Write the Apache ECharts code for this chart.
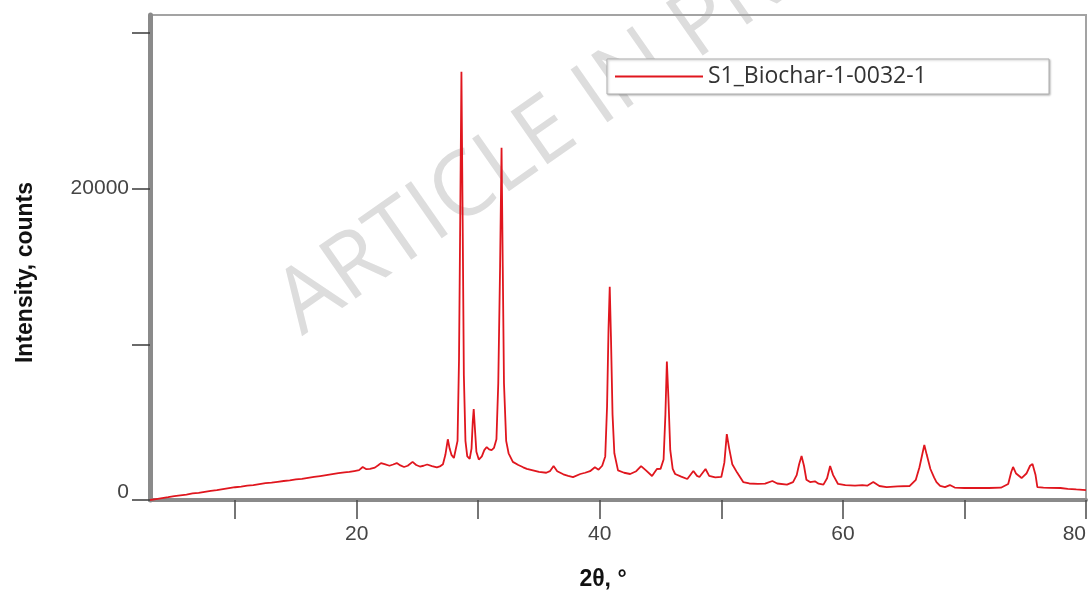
<!DOCTYPE html>
<html>
<head>
<meta charset="utf-8">
<script src="https://cdn.jsdelivr.net/npm/echarts@6/dist/echarts.min.js"></script>
<style>
  html, body { margin: 0; padding: 0; background: #ffffff; }
  #chart { width: 1092px; height: 596px; }
</style>
</head>
<body>
<div id="chart"></div>
<script>
// ---- data ----
const seriesName = 'S1_Biochar-1-0032-1';
const twoTheta = [
  3.0, 3.5, 4.0, 4.5, 5.0, 5.5, 6.0, 6.5, 7.0, 7.5, 8.0, 8.5, 9.0, 9.5, 10.0, 10.5,
  11.0, 11.5, 12.0, 12.5, 13.0, 13.5, 14.0, 14.5, 15.0, 15.5, 16.0, 16.5, 17.0, 17.5,
  18.0, 18.5, 19.0, 19.4, 19.8, 20.2, 20.5, 20.8, 21.1, 21.5, 21.8, 22.0, 22.3, 22.7,
  23.0, 23.3, 23.6, 23.9, 24.2, 24.6, 24.9, 25.2, 25.5, 25.8, 26.2, 26.6, 26.9, 27.1,
  27.3, 27.5, 27.65, 27.8, 28.0, 28.15, 28.3, 28.42, 28.52, 28.62, 28.72, 28.82, 28.95,
  29.1, 29.3, 29.45, 29.55, 29.63, 29.72, 29.85, 30.05, 30.3, 30.5, 30.7, 30.9, 31.1,
  31.3, 31.5, 31.65, 31.8, 31.92, 32.02, 32.12, 32.3, 32.5, 32.85, 33.3, 33.7, 34.0,
  34.5, 35.0, 35.6, 35.9, 36.2, 36.5, 37.0, 37.4, 37.8, 38.4, 38.8, 39.2, 39.6, 39.9,
  40.2, 40.45, 40.6, 40.72, 40.82, 40.92, 41.05, 41.2, 41.5, 42.0, 42.5, 43.0, 43.4,
  43.8, 44.3, 44.7, 45.0, 45.25, 45.4, 45.52, 45.65, 45.8, 46.0, 46.2, 46.7, 47.2,
  47.7, 48.0, 48.2, 48.7, 49.0, 49.5, 50.0, 50.25, 50.45, 50.65, 50.9, 51.3, 51.8,
  52.3, 53.0, 53.6, 54.2, 54.6, 55.4, 55.9, 56.2, 56.4, 56.6, 56.8, 57.0, 57.3, 57.7,
  58.0, 58.4, 58.7, 58.95, 59.2, 59.6, 60.2, 61.0, 61.6, 62.0, 62.5, 63.0, 63.6, 64.5,
  65.5, 66.0, 66.3, 66.55, 66.7, 66.9, 67.2, 67.5, 67.7, 68.0, 68.4, 68.8, 69.2, 70.0,
  71.0, 72.0, 73.0, 73.6, 73.85, 74.0, 74.25, 74.7, 75.1, 75.4, 75.6, 75.85, 76.0,
  76.5, 77.0, 77.9, 78.5, 79.2, 80.0
];
const intensity = [
  0, 60, 120, 180, 250, 300, 350, 420, 460, 520, 580, 630, 700, 760, 820, 860,
  920, 960, 1020, 1080, 1120, 1170, 1220, 1260, 1320, 1360, 1420, 1480, 1540, 1600,
  1660, 1720, 1780, 1800, 1860, 1920, 2120, 1980, 2000, 2080, 2250, 2370, 2300, 2200,
  2280, 2370, 2220, 2120, 2200, 2450, 2250, 2150, 2200, 2280, 2180, 2100, 2180, 2300,
  2900, 3900, 3300, 2900, 2700, 2650, 3800, 9000, 18000, 27500, 18000, 8000, 3800,
  2800, 2650, 3300, 5000, 5840, 4700, 3100, 2600, 2800, 3200, 3400, 3250, 3200,
  3350, 3900, 7500, 15000, 22630, 15000, 7500, 3800, 3000, 2450, 2250, 2100, 2000,
  1900, 1800, 1750, 1850, 2180, 1850, 1650, 1550, 1470, 1670, 1750, 1850, 2100, 1950,
  2200, 2800, 6000, 11000, 13700, 10500, 5500, 3000, 1900, 1750, 1670, 1850, 2180,
  1900, 1540, 1990, 2000, 2600, 5500, 8900, 6500, 3200, 2000, 1670, 1500, 1350,
  1860, 1550, 1480, 1990, 1550, 1450, 1480, 2400, 4230, 3300, 2300, 1760, 1150,
  1060, 1030, 1050, 1220, 1060, 990, 1150, 1600, 2300, 2820, 2200, 1300, 1150, 1200,
  1050, 990, 1400, 2180, 1600, 1030, 950, 920, 950, 920, 1150, 900, 830, 880,
  900, 1300, 2100, 3000, 3530, 2900, 1990, 1450, 1150, 900, 830, 960, 800, 770,
  780, 770, 790, 1030, 1800, 2120, 1700, 1410, 1700, 2200, 2310, 1600, 830,
  800, 780, 770, 720, 680, 640
];
const xTickValues = [10, 20, 30, 40, 50, 60, 70, 80];
const xLabelValues = [20, 40, 60, 80];
const yTickValues = [0, 10000, 20000, 30000];
const yLabelValues = [0, 20000];
const xAxisTitle = '2θ, °';
const yAxisTitle = 'Intensity, counts';
const watermarkText = 'ARTICLE IN PRESS';

const points = twoTheta.map((t, i) => [t, intensity[i]]);

const chart = echarts.init(document.getElementById('chart'), null, { renderer: 'canvas' });
chart.setOption({
  animation: false,
  backgroundColor: '#ffffff',
  graphic: [{
    type: 'text',
    z: -10,
    x: 313,
    y: 352,
    rotation: 35 * Math.PI / 180,
    style: {
      text: watermarkText,
      font: '90px "Open Sans"',
      fill: '#dddddd',
      textAlign: 'left',
      textVerticalAlign: 'bottom'
    }
  }],
  grid: {
    left: 150, right: 6, top: 15, bottom: 95,
    show: true, borderColor: '#a3a3a3', borderWidth: 2, backgroundColor: 'transparent'
  },
  legend: {
    left: 607, top: 59,
    orient: 'horizontal',
    icon: 'rect',
    itemWidth: 88, itemHeight: 2, itemGap: 10,
    padding: [5, 41, 5, 8],
    borderColor: '#b0b0b0', borderWidth: 1, borderRadius: 0,
    backgroundColor: '#ffffff',
    shadowColor: 'rgba(0,0,0,0.25)', shadowBlur: 2, shadowOffsetX: 1, shadowOffsetY: 1,
    textStyle: { fontFamily: '"Open Sans"', fontSize: 23, color: '#333333', width: 300, lineHeight: 25 },
    data: [seriesName]
  },
  xAxis: {
    type: 'value', min: 3, max: 80,
    name: xAxisTitle, nameLocation: 'middle', nameGap: 68,
    nameTextStyle: { fontFamily: '"Liberation Sans", Arial', fontWeight: 'bold', fontSize: 23, color: '#111', padding: [0, 30, 0, 0] },
    axisLine: { show: true, onZero: false, lineStyle: { color: '#8a8a8a', width: 4 } },
    axisTick: { show: true, inside: false, length: 19, customValues: xTickValues, lineStyle: { color: '#4a4a4a', width: 1.5 } },
    axisLabel: {
      show: true, customValues: xLabelValues, margin: 24, alignMaxLabel: 'right',
      fontFamily: '"Liberation Sans", Arial', fontSize: 21, color: '#444444'
    },
    splitLine: { show: false }
  },
  yAxis: {
    type: 'value', min: 0, max: 31150,
    name: yAxisTitle, nameLocation: 'middle', nameGap: 113, nameRotate: 90,
    nameTextStyle: { fontFamily: '"Liberation Sans", Arial', fontWeight: 'bold', fontSize: 23, color: '#111', padding: [0, 30, 0, 0] },
    axisLine: { show: true, onZero: false, lineStyle: { color: '#8a8a8a', width: 5 } },
    axisTick: { show: true, inside: false, length: 18, customValues: yTickValues, lineStyle: { color: '#3a3a3a', width: 1.5 } },
    axisLabel: {
      show: true, customValues: yLabelValues, margin: 21,
      fontFamily: '"Liberation Sans", Arial', fontSize: 21, color: '#444444',
      formatter: v => v === 0 ? '{z|0}' : String(v),
      rich: { z: { fontFamily: '"Liberation Sans", Arial', fontSize: 21, color: '#444444', padding: [0, 0, 16, 0] } }
    },
    splitLine: { show: false }
  },
  series: [{
    name: seriesName,
    type: 'line',
    data: points,
    symbol: 'none',
    smooth: false,
    lineStyle: { color: '#e0161e', width: 1.8 },
    itemStyle: { color: '#e0161e' },
    z: 5
  }]
});
</script>
</body>
</html>
